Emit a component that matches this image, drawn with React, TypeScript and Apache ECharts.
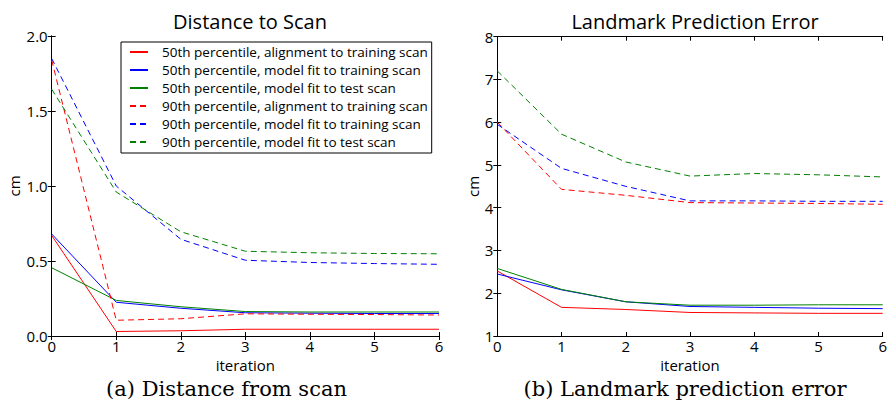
import React, { useEffect, useRef } from "react";
import * as echarts from "echarts";

const iterations = [0, 1, 2, 3, 4, 5, 6];
const seriesNames = [
  "50th percentile, alignment to training scan",
  "50th percentile, model fit to training scan",
  "50th percentile, model fit to test scan",
  "90th percentile, alignment to training scan",
  "90th percentile, model fit to training scan",
  "90th percentile, model fit to test scan",
];
const seriesColors = ["#ff0000", "#0000ff", "#008000", "#ff0000", "#0000ff", "#008000"];
const seriesDashed = [false, false, false, true, true, true];

// Distance to Scan (cm)
const dist50Align = [0.67, 0.03, 0.035, 0.045, 0.045, 0.045, 0.045];
const dist50FitTrain = [0.68, 0.225, 0.185, 0.155, 0.152, 0.15, 0.15];
const dist50FitTest = [0.455, 0.237, 0.195, 0.163, 0.16, 0.16, 0.16];
const dist90Align = [1.84, 0.105, 0.115, 0.148, 0.145, 0.143, 0.14];
const dist90FitTrain = [1.85, 1.0, 0.645, 0.505, 0.49, 0.483, 0.478];
const dist90FitTest = [1.645, 0.96, 0.695, 0.565, 0.555, 0.55, 0.548];

// Landmark Prediction Error (cm)
const lm50Align = [2.52, 1.67, 1.62, 1.55, 1.54, 1.53, 1.53];
const lm50FitTrain = [2.45, 2.08, 1.8, 1.69, 1.67, 1.65, 1.64];
const lm50FitTest = [2.58, 2.09, 1.8, 1.72, 1.72, 1.73, 1.73];
const lm90Align = [6.0, 4.43, 4.29, 4.12, 4.11, 4.1, 4.08];
const lm90FitTrain = [5.95, 4.92, 4.5, 4.16, 4.16, 4.15, 4.15];
const lm90FitTest = [7.2, 5.72, 5.07, 4.74, 4.8, 4.77, 4.72];

const distSeries = [dist50Align, dist50FitTrain, dist50FitTest, dist90Align, dist90FitTrain, dist90FitTest];
const lmSeries = [lm50Align, lm50FitTrain, lm50FitTest, lm90Align, lm90FitTrain, lm90FitTest];

const titles = ["Distance to Scan", "Landmark Prediction Error"];
const captions = ["(a) Distance from scan", "(b) Landmark prediction error"];

const SANS = "Open Sans";
const SERIF = "DejaVu Serif";

export default function App() {
  const ref = useRef<HTMLDivElement>(null);
  useEffect(() => {
    if (!ref.current) return;
    document.body.style.margin = "0";
    const chart = echarts.init(ref.current, undefined, { renderer: "svg" });

    const frameLine = { show: true, lineStyle: { color: "#000", width: 1 } };
    const tick = { show: true, inside: true, length: 4, lineStyle: { color: "#000", width: 1 } };
    const tickLabel = { color: "#000", fontFamily: SANS, fontSize: 15 };

    const mkX = (gridIndex: number, bottom: boolean) => ({
      type: "value" as const,
      gridIndex,
      position: bottom ? "bottom" : "top",
      min: 0,
      max: 6,
      interval: 1,
      axisLine: frameLine,
      axisTick: tick,
      splitLine: { show: false },
      axisLabel: bottom ? { ...tickLabel, margin: 2, showMaxLabel: true, showMinLabel: true } : { show: false },
      name: bottom ? "iteration" : "",
      nameLocation: "middle" as const,
      nameGap: 17,
      nameTextStyle: { color: "#000", fontFamily: SANS, fontSize: 15 },
    });
    const mkY = (gridIndex: number, left: boolean, min: number, max: number, interval: number, decimals: number, nameGap: number) => ({
      type: "value" as const,
      gridIndex,
      position: left ? "left" : "right",
      min,
      max,
      interval,
      axisLine: frameLine,
      axisTick: tick,
      splitLine: { show: false },
      axisLabel: left
        ? { ...tickLabel, margin: 4, formatter: (v: number) => v.toFixed(decimals) }
        : { show: false },
      name: left ? "cm" : "",
      nameLocation: "middle" as const,
      nameRotate: 90,
      nameGap,
      nameTextStyle: { color: "#000", fontFamily: SANS, fontSize: 15 },
    });

    const series: any[] = [];
    [distSeries, lmSeries].forEach((group, gi) => {
      group.forEach((vals, i) => {
        series.push({
          type: "line",
          name: seriesNames[i],
          xAxisIndex: gi * 2,
          yAxisIndex: gi * 2,
          data: iterations.map((x, k) => [x, vals[k]]),
          symbol: "none",
          showSymbol: false,
          color: seriesColors[i],
          lineStyle: {
            color: seriesColors[i],
            width: 1,
            type: seriesDashed[i] ? [6, 4] : "solid",
          },
          z: 2,
        });
      });
    });

    chart.setOption({
      animation: false,
      backgroundColor: "#fff",
      title: [
        { text: titles[0], left: 245, top: 6, textAlign: "center", textStyle: { fontFamily: SANS, fontSize: 20, fontWeight: "normal", color: "#000" } },
        { text: titles[1], left: 690, top: 6, textAlign: "center", textStyle: { fontFamily: SANS, fontSize: 20, fontWeight: "normal", color: "#000" } },
      ],
      legend: {
        data: seriesNames,
        orient: "vertical",
        left: 121,
        top: 42,
        itemWidth: 18,
        itemHeight: 14,
        itemGap: 4,
        padding: [3, 4, 4, 8],
        borderColor: "#000",
        borderWidth: 1,
        borderRadius: 0,
        backgroundColor: "#fff",
        itemStyle: { opacity: 0 },
        textStyle: { fontFamily: SANS, fontSize: 13.5, color: "#000", padding: [0, 0, 0, 9] },
        selectedMode: false,
      },
      grid: [
        { left: 51.7, right: 451, top: 36, bottom: 72 },
        { left: 497.3, right: 5.7, top: 36.7, bottom: 72 },
      ],
      xAxis: [mkX(0, true), mkX(0, false), mkX(1, true), mkX(1, false)],
      yAxis: [
        mkY(0, true, 0, 2, 0.5, 1, 30),
        mkY(0, false, 0, 2, 0.5, 1, 30),
        mkY(1, true, 1, 8, 1, 0, 17),
        mkY(1, false, 1, 8, 1, 0, 17),
      ],
      series,
      graphic: [
        { type: "text", x: 226.5, y: 389, style: { text: captions[0], fontFamily: SERIF, fontSize: 21, fill: "#000", align: "center", verticalAlign: "middle" } },
        { type: "text", x: 685, y: 389, style: { text: captions[1], fontFamily: SERIF, fontSize: 21, fill: "#000", align: "center", verticalAlign: "middle" } },
      ],
    });
    return () => chart.dispose();
  }, []);
  return <div ref={ref} style={{ width: 890, height: 408 }} />;
}
